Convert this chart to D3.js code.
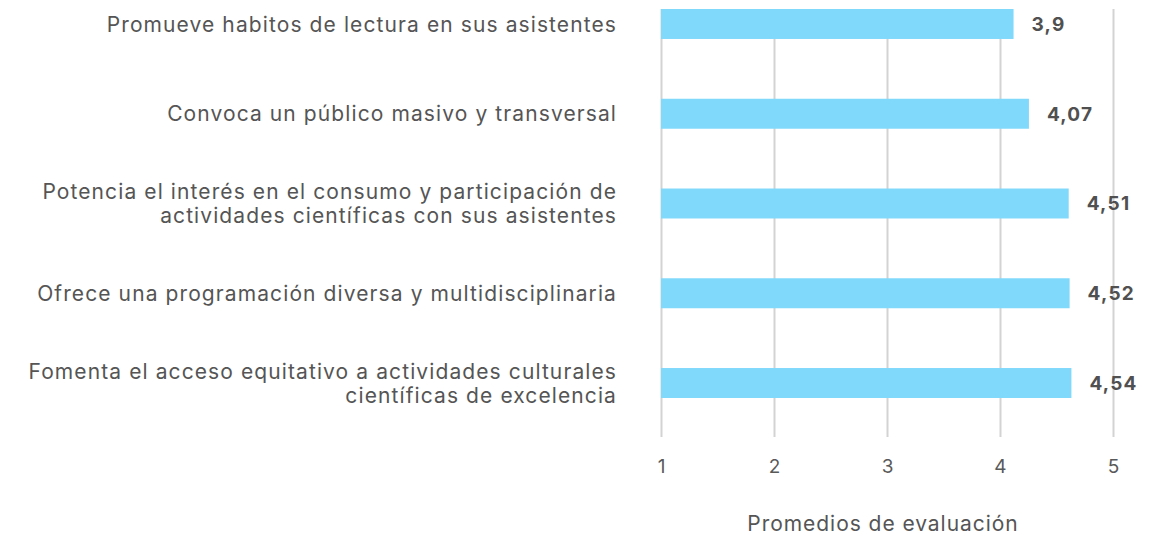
<!DOCTYPE html>
<html>
<head>
<meta charset="utf-8">
<script src="https://cdn.jsdelivr.net/npm/d3@7"></script>
<style>
  html, body { margin: 0; padding: 0; background: #fff; }
  svg { display: block; font-family: Inter, "Noto Sans", sans-serif; }
</style>
</head>
<body>
<svg id="chart" width="1167" height="542"></svg>
<script>
// Category labels (line breaks marked with \n) and their average scores
const categories = [
  "Promueve habitos de lectura en sus asistentes",
  "Convoca un público masivo y transversal",
  "Potencia el interés en el consumo y participación de\nactividades científicas con sus asistentes",
  "Ofrece una programación diversa y multidisciplinaria",
  "Fomenta el acceso equitativo a actividades culturales\ncientíficas de excelencia"
];
const values = [3.9, 4.07, 4.51, 4.52, 4.54];
const valueLabels = ["3,9", "4,07", "4,51", "4,52", "4,54"];
const tickLabels = [1, 2, 3, 4, 5];
const axisTitle = "Promedios de evaluación";

const svg = d3.select("#chart");
const plotLeft = 661, plotRight = 1113, plotTop = 9, plotBottom = 437;

// Axis scale for the 1–5 grid
const xAxis = d3.scaleLinear().domain([1, 5]).range([plotLeft, plotRight]);
// Bar length scale
const xBar = d3.scaleLinear().domain([0, 5]).range([plotLeft, plotRight]);

const y = d3.scaleBand()
  .domain(categories)
  .range([9, 398])
  .paddingInner(0.666)
  .paddingOuter(0);

// Vertical gridlines and tick labels
const axis = d3.axisBottom(xAxis)
  .tickValues(tickLabels)
  .tickFormat(d3.format("d"))
  .tickSizeInner(-(plotBottom - plotTop))
  .tickSizeOuter(0)
  .tickPadding(23);

const gAxis = svg.append("g")
  .attr("transform", `translate(0,${plotBottom})`)
  .call(axis);
gAxis.select(".domain").remove();
gAxis.selectAll(".tick line")
  .attr("stroke", "#d3d3d3")
  .attr("stroke-width", 2);
gAxis.selectAll(".tick text")
  .attr("fill", "#595959")
  .style("font-size", "19px")
  .style("font-family", "Inter, 'Noto Sans', sans-serif");

// Bars
svg.append("g").selectAll("rect")
  .data(categories)
  .join("rect")
  .attr("x", xBar(0))
  .attr("y", d => y(d))
  .attr("width", (d, i) => xBar(values[i]) - xBar(0))
  .attr("height", y.bandwidth())
  .attr("fill", "#80d9fb");

// Value labels
svg.append("g").selectAll("text")
  .data(categories)
  .join("text")
  .attr("x", (d, i) => xBar(values[i]) + 18)
  .attr("y", d => y(d) + y.bandwidth() / 2)
  .attr("dy", "0.36em")
  .attr("fill", "#505050")
  .style("font-size", "19px")
  .style("font-weight", "700")
  .style("letter-spacing", "1.2px")
  .text((d, i) => valueLabels[i]);

// Category labels, right-aligned
const lineHeight = 24;
const cat = svg.append("g").selectAll("text")
  .data(categories)
  .join("text")
  .attr("text-anchor", "end")
  .attr("fill", "#555555")
  .style("font-size", "21px")
  .style("letter-spacing", "1.1px");
cat.each(function(d) {
  const lines = d.split("\n");
  const cy = y(d) + y.bandwidth() / 2;
  const t = d3.select(this);
  lines.forEach((ln, k) => {
    t.append("tspan")
      .attr("x", 617)
      .attr("y", cy + (k - (lines.length - 1) / 2) * lineHeight)
      .attr("dy", "0.36em")
      .text(ln);
  });
});

// Axis title
svg.append("text")
  .attr("x", 883)
  .attr("y", 523)
  .attr("dy", "0.36em")
  .attr("text-anchor", "middle")
  .attr("fill", "#555555")
  .style("font-size", "21px")
  .style("letter-spacing", "0.95px")
  .text(axisTitle);
</script>
</body>
</html>
